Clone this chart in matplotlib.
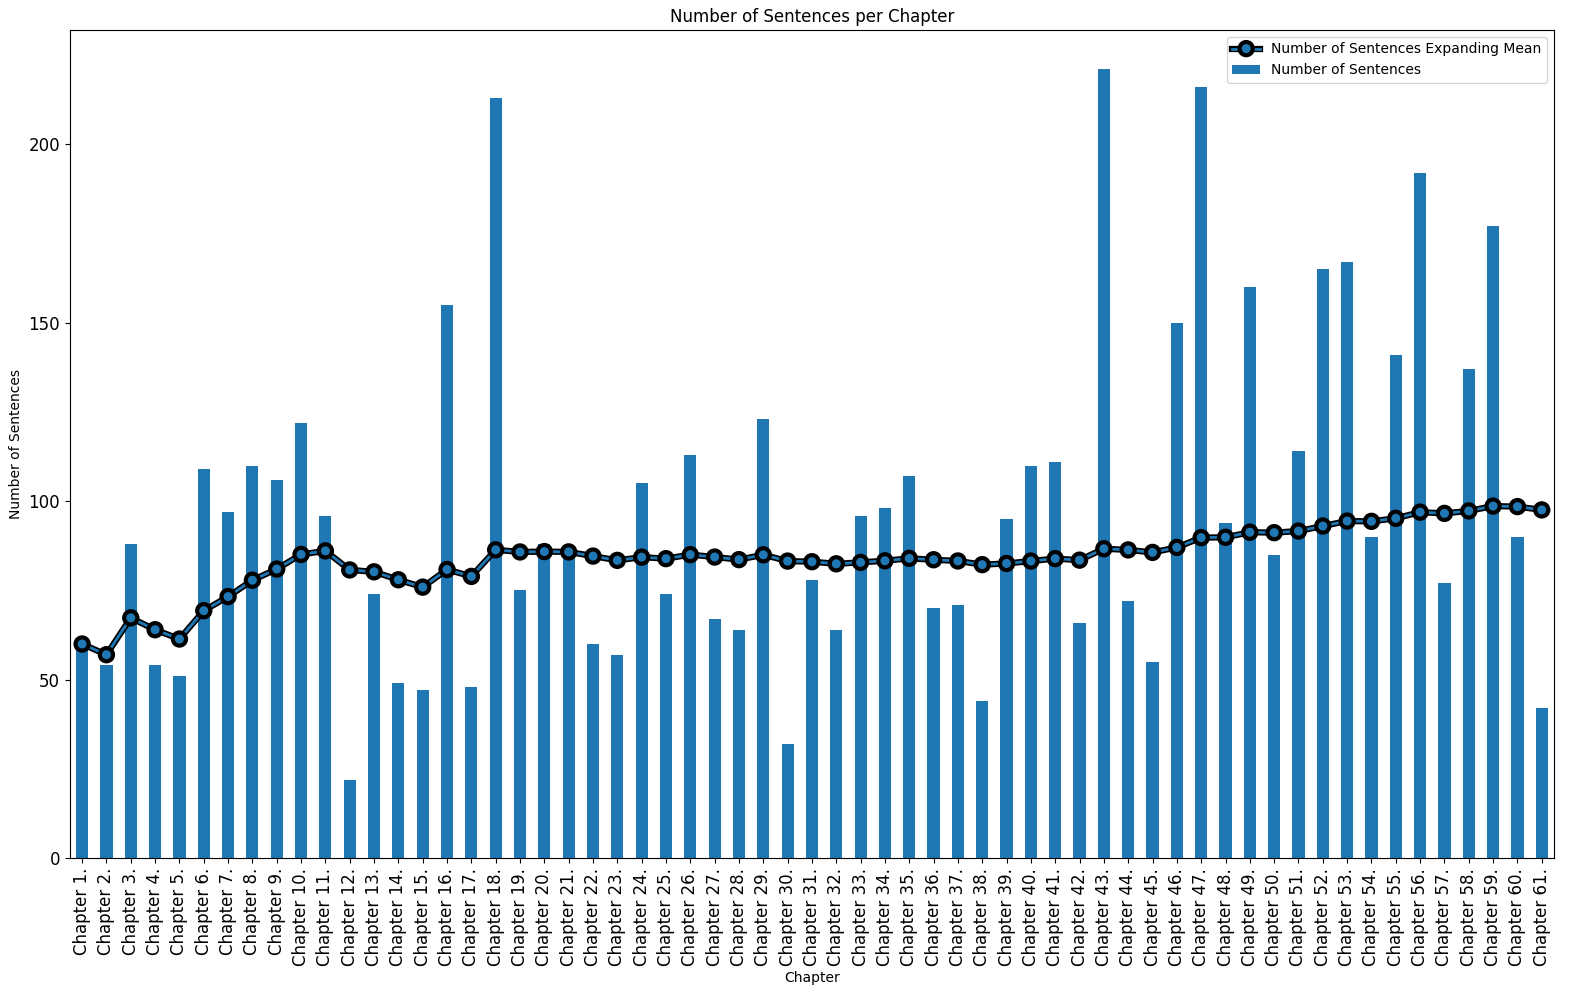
import matplotlib
matplotlib.use("Agg")
import matplotlib.pyplot as plt
import matplotlib.patheffects as pe
import numpy as np
import pandas as pd

chapters = [f"Chapter {i}." for i in range(1, 62)]
sentences = [60, 54, 88, 54, 51, 109, 97, 110, 106, 122, 96, 22, 74, 49, 47, 155, 48, 213, 75, 88,
             84, 60, 57, 105, 74, 113, 67, 64, 123, 32, 78, 64, 96, 98, 107, 70, 71, 44, 95, 110,
             111, 66, 221, 72, 55, 150, 216, 94, 160, 85, 114, 165, 167, 90, 141, 192, 77, 137, 177, 90, 42]

s = pd.Series(sentences, index=chapters)
mean = s.expanding().mean()

fig = plt.figure(figsize=(15.72, 9.99), dpi=100)
ax = fig.add_axes([0.0445, 0.141, 0.944, 0.829])
x = np.arange(len(chapters))
ax.bar(x, s.values, width=0.5, color="#1f77b4", label="Number of Sentences", zorder=1)
ax.plot(x, mean.values, color="#1f77b4", lw=2, marker="o", markersize=8,
        markeredgecolor="black", markeredgewidth=1.5,
        path_effects=[pe.Stroke(linewidth=4.5, foreground="black"), pe.Normal()],
        label="Number of Sentences Expanding Mean", zorder=3)
ax.set_xlim(-0.5, len(chapters) - 0.5)
ax.set_xticks(x)
ax.set_xticklabels(chapters, rotation=90, fontsize=12)
ax.tick_params(axis="y", labelsize=12)
ax.set_title("Number of Sentences per Chapter", fontsize=12)
ax.set_xlabel("Chapter", fontsize=10)
ax.set_ylabel("Number of Sentences", fontsize=10)
ax.legend(loc="upper right", fontsize=10)
fig.savefig("out.png", dpi=100)
